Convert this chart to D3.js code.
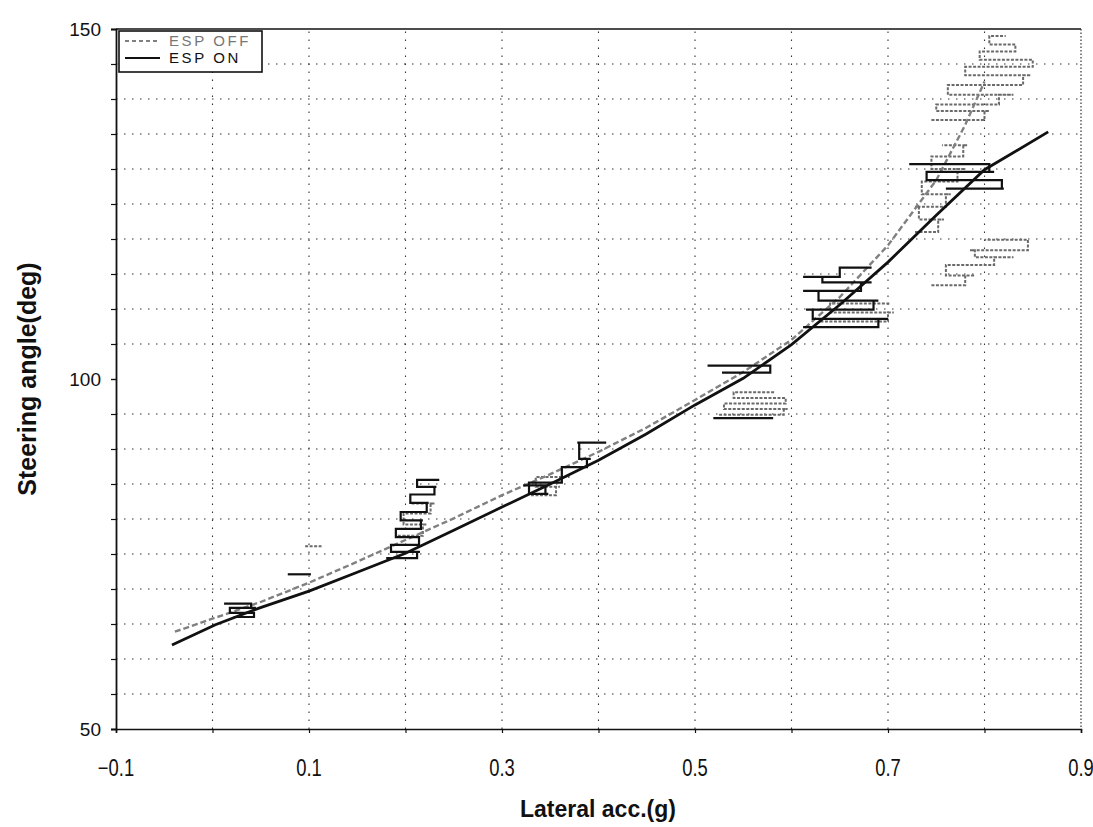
<!DOCTYPE html>
<html>
<head>
<meta charset="utf-8">
<script src="https://cdn.jsdelivr.net/npm/d3@7"></script>
<style>
  html, body { margin: 0; padding: 0; background: #fff; }
  svg { display: block; }
</style>
</head>
<body>
<svg id="chart" width="1093" height="827"></svg>
<script>
// Axis ticks
const xTickValues = [-0.1, 0.1, 0.3, 0.5, 0.7, 0.9];
const xGridValues = [0.0, 0.1, 0.2, 0.3, 0.4, 0.5, 0.6, 0.7, 0.8];
const yTickValues = [50, 100, 150];
const yGridValues = [55, 60, 65, 70, 75, 80, 85, 90, 95, 105, 110, 115, 120, 125, 130, 135, 140, 145];
const yMinorTicks = [55, 60, 65, 70, 75, 80, 85, 90, 95, 100, 105, 110, 115, 120, 125, 130, 135, 140, 145];

// Series names
const seriesNames = ["ESP OFF", "ESP ON"];

// ESP ON: main steering-angle trace [lateral acc (g), steering angle (deg)]
const espOn = [
  [-0.042, 62.0], [0.003, 64.9], [0.049, 67.3], [0.100, 69.7], [0.150, 72.4],
  [0.200, 75.1], [0.250, 78.4], [0.300, 81.7], [0.350, 85.0], [0.400, 88.4],
  [0.449, 92.1], [0.500, 96.3], [0.550, 100.1], [0.600, 104.9], [0.650, 110.6],
  [0.700, 116.7], [0.750, 123.4], [0.800, 129.9], [0.866, 135.3]
];

// ESP OFF: main steering-angle trace
const espOff = [
  [-0.039, 63.9], [0.003, 65.9], [0.049, 68.1], [0.100, 70.9], [0.150, 73.9],
  [0.200, 77.0], [0.250, 80.1], [0.300, 83.4], [0.350, 86.4], [0.400, 89.6],
  [0.449, 93.0], [0.500, 97.0], [0.550, 101.0], [0.600, 105.6], [0.650, 111.7],
  [0.700, 119.1], [0.750, 128.4], [0.780, 136.3], [0.800, 142.5]
];

// Steady-state holds: rows of [acc at start, acc at end, steering angle]
const espOnHolds = [
  [[0.012, 0.040, 67.9], [0.045, 0.018, 67.3], [0.020, 0.043, 66.6], [0.040, 0.022, 66.0]],
  [[0.078, 0.102, 72.1]],
  [[0.180, 0.212, 74.4], [0.215, 0.185, 75.3], [0.188, 0.214, 76.3], [0.212, 0.190, 77.4],
   [0.192, 0.216, 78.6], [0.218, 0.195, 79.8], [0.198, 0.222, 81.0], [0.224, 0.205, 82.3],
   [0.208, 0.230, 83.5], [0.232, 0.212, 84.6], [0.215, 0.235, 85.6]],
  [[0.322, 0.345, 84.8], [0.348, 0.328, 83.6], [0.335, 0.362, 85.2], [0.372, 0.388, 87.4],
   [0.392, 0.380, 88.6], [0.378, 0.408, 90.9]],
  [[0.519, 0.581, 94.4]],
  [[0.513, 0.578, 101.9], [0.560, 0.528, 100.9]],
  [[0.612, 0.690, 107.4], [0.700, 0.622, 108.6], [0.615, 0.685, 109.9], [0.690, 0.628, 111.2],
   [0.612, 0.672, 112.6], [0.683, 0.632, 113.8], [0.612, 0.650, 114.6], [0.658, 0.683, 115.9]],
  [[0.722, 0.805, 130.7], [0.810, 0.740, 129.6], [0.748, 0.818, 128.4], [0.820, 0.760, 127.2]]
];

const espOffHolds = [
  [[0.096, 0.113, 76.1]],
  [[0.192, 0.218, 77.6], [0.222, 0.198, 79.2], [0.200, 0.226, 80.8], [0.230, 0.205, 82.2]],
  [[0.330, 0.356, 83.4], [0.360, 0.335, 84.6], [0.340, 0.370, 86.0]],
  [[0.525, 0.592, 94.9], [0.596, 0.530, 95.7], [0.535, 0.594, 96.5], [0.590, 0.540, 97.3],
   [0.548, 0.582, 98.1]],
  [[0.630, 0.700, 108.2], [0.706, 0.640, 109.5], [0.650, 0.702, 110.8]],
  [[0.745, 0.780, 113.4], [0.790, 0.760, 114.8], [0.765, 0.810, 116.3], [0.830, 0.790, 117.4],
   [0.785, 0.845, 118.4], [0.840, 0.800, 119.9]],
  [[0.728, 0.752, 121.0], [0.758, 0.732, 122.8], [0.728, 0.760, 124.6], [0.765, 0.735, 126.4],
   [0.740, 0.772, 128.2], [0.780, 0.745, 130.0], [0.750, 0.778, 131.8], [0.782, 0.756, 133.4]],
  [[0.745, 0.800, 137.0], [0.805, 0.750, 138.3], [0.755, 0.815, 139.2], [0.830, 0.762, 140.6],
   [0.770, 0.840, 142.0], [0.848, 0.780, 143.4], [0.790, 0.850, 144.6], [0.845, 0.795, 145.6],
   [0.800, 0.832, 146.8], [0.828, 0.805, 147.8], [0.808, 0.822, 149.0]]
];

const svg = d3.select("#chart");
const margin = { left: 116, right: 12, top: 29, bottom: 98 };
const W = 1093, H = 827;

const x = d3.scaleLinear().domain([-0.1, 0.9]).range([margin.left, W - margin.right]);
const y = d3.scaleLinear().domain([50, 150]).range([H - margin.bottom, margin.top]);

// Dotted grid
const grid = svg.append("g").attr("stroke", "#333").attr("stroke-width", 1.1)
  .attr("stroke-dasharray", "1.5,6.5");
grid.selectAll("line.h").data(yGridValues).join("line")
  .attr("class", "h")
  .attr("x1", x(-0.1)).attr("x2", x(0.9))
  .attr("y1", d => y(d)).attr("y2", d => y(d));
grid.selectAll("line.v").data(xGridValues).join("line")
  .attr("class", "v")
  .attr("y1", y(50)).attr("y2", y(150))
  .attr("x1", d => x(d)).attr("x2", d => x(d));

// Frame
svg.append("line").attr("x1", x(-0.1)).attr("x2", x(0.9)).attr("y1", y(150)).attr("y2", y(150))
  .attr("stroke", "#111").attr("stroke-width", 1.6);
svg.append("line").attr("x1", x(0.9)).attr("x2", x(0.9)).attr("y1", y(150)).attr("y2", y(50))
  .attr("stroke", "#333").attr("stroke-width", 1.2).attr("stroke-dasharray", "1.5,2");

// Axes
const xAxis = d3.axisBottom(x).tickValues(xGridValues.concat([-0.1, 0.9])).tickSize(4).tickFormat("");
const gx = svg.append("g").attr("transform", `translate(0,${y(50)})`).call(xAxis);
gx.select(".domain").attr("stroke", "#111").attr("stroke-width", 1.6);
gx.selectAll(".tick line").attr("stroke", "#111").attr("stroke-width", 1.2);

const yAxis = d3.axisLeft(y).tickValues(yMinorTicks.concat(yTickValues)).tickSize(5).tickFormat("");
const gy = svg.append("g").attr("transform", `translate(${x(-0.1)},0)`).call(yAxis);
gy.select(".domain").attr("stroke", "#111").attr("stroke-width", 1.8);
gy.selectAll(".tick line").attr("stroke", "#111").attr("stroke-width", 1.2);

// Tick labels (condensed)
svg.append("g").selectAll("text").data(xTickValues).join("text")
  .attr("transform", d => `translate(${x(d)},776) scale(0.8,1)`)
  .attr("text-anchor", "middle")
  .attr("font-family", "'Liberation Sans', Arial, sans-serif")
  .attr("font-size", 23).attr("fill", "#111")
  .text(d => d === -0.1 ? "\u22120.1" : d3.format(".1f")(d));

svg.append("g").selectAll("text").data(yTickValues).join("text")
  .attr("x", 101).attr("y", d => y(d) + 7)
  .attr("text-anchor", "end")
  .attr("font-family", "'Liberation Sans', Arial, sans-serif")
  .attr("font-size", 19).attr("fill", "#111")
  .text(d => d);

// Axis titles
svg.append("text")
  .attr("x", 598).attr("y", 817).attr("text-anchor", "middle")
  .attr("font-family", "'Liberation Sans', Arial, sans-serif")
  .attr("font-weight", "bold").attr("font-size", 23).attr("fill", "#111")
  .text("Lateral acc.(g)");
svg.append("text")
  .attr("transform", `translate(36,${y(100)}) rotate(-90)`)
  .attr("text-anchor", "middle")
  .attr("font-family", "'Liberation Sans', Arial, sans-serif")
  .attr("font-weight", "bold").attr("font-size", 25).attr("fill", "#111")
  .text("Steering angle(deg)");

// Data traces
const line = d3.line().x(d => x(d[0])).y(d => y(d[1]));
const holdLine = d3.line().x(d => x(d[0])).y(d => y(d[1])).curve(d3.curveStepBefore);
const holdPoints = rows => rows.flatMap(r => [[r[0], r[2]], [r[1], r[2]]]);
const plot = svg.append("g");

plot.append("g").selectAll("path").data(espOffHolds).join("path")
  .attr("d", rows => holdLine(holdPoints(rows))).attr("fill", "none")
  .attr("stroke", "#6a6a6a").attr("stroke-width", 2).attr("stroke-dasharray", "3,1.5");
plot.append("path").datum(espOff).attr("d", line).attr("fill", "none")
  .attr("stroke", "#808080").attr("stroke-width", 2.4).attr("stroke-dasharray", "6,3");

plot.append("g").selectAll("path").data(espOnHolds).join("path")
  .attr("d", rows => holdLine(holdPoints(rows))).attr("fill", "none")
  .attr("stroke", "#111").attr("stroke-width", 2.2);
plot.append("path").datum(espOn).attr("d", line).attr("fill", "none")
  .attr("stroke", "#111").attr("stroke-width", 2.8);

// Legend
const leg = svg.append("g");
leg.append("rect").attr("x", 119).attr("y", 31).attr("width", 143).attr("height", 41)
  .attr("fill", "#fff").attr("stroke", "#111").attr("stroke-width", 1.6);
const legRows = [
  { name: seriesNames[0], stroke: "#808080", dash: "4,3", color: "#777", width: 2 },
  { name: seriesNames[1], stroke: "#111", dash: null, color: "#111", width: 2.2 }
];
legRows.forEach((r, i) => {
  const yy = 41 + i * 17;
  leg.append("line").attr("x1", 125).attr("x2", 160).attr("y1", yy).attr("y2", yy)
    .attr("stroke", r.stroke).attr("stroke-width", r.width)
    .attr("stroke-dasharray", r.dash);
  leg.append("text").attr("x", 169).attr("y", yy + 5)
    .attr("font-family", "'Liberation Sans', Arial, sans-serif")
    .attr("font-size", 15).attr("letter-spacing", 2.6).attr("fill", r.color)
    .text(r.name);
});
</script>
</body>
</html>
